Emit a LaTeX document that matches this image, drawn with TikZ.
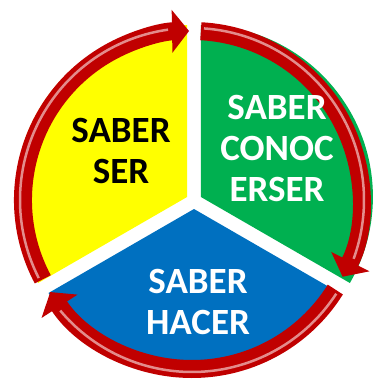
\documentclass[tikz,border=0pt]{standalone}
\usepackage{fontspec}
\setmainfont{Carlito}
\usetikzlibrary{arrows.meta}
\definecolor{saberyellow}{HTML}{FFFF00}
\definecolor{sabergreen}{HTML}{00B050}
\definecolor{saberblue}{HTML}{0070C0}
\definecolor{ringred}{HTML}{C00000}

\begin{document}
\begin{tikzpicture}[x=1pt,y=1pt,
    ringarrow/.style={draw=ringred,line width=18pt,-{Triangle[length=17pt,width=42pt]}},
    ringshine/.style={draw=ringred!45!white,line width=2.5pt},
    sabertext/.style={align=center,font=\fontsize{37}{41}\selectfont\bfseries}]
	 \useasboundingbox (-194,-180) rectangle (180,201);%for adjustment

            % the three pieces, pulled apart a little
            \fill[saberyellow,shift={(150:8)}] (0,0) -- (90:172) arc[start angle=90,end angle=210,radius=172] -- cycle;
            \fill[sabergreen,shift={(30:8)}] (0,0) -- (90:172) arc[start angle=90,end angle=-30,radius=172] -- cycle;
            \fill[saberblue,shift={(270:8)}] (0,0) -- (-30:168) arc[start angle=-30,end angle=-150,radius=168] -- cycle;

            % the ring of arrows, clockwise
            \foreach \from/\to in {208/91,87/-27,-32/-147}{
              \draw[ringarrow,shift={(-2,1)}] (\from:169) arc[start angle=\from,end angle=\to,radius=169];
              \draw[ringshine,shift={(-2,1)}] (\from-1:172) arc[start angle=\from-1,end angle=\to+7,radius=172];
            }

            \node[sabertext,text=black] (ser) at (-73,50) {SABER\\SER};
            \node[sabertext,text=white] (conocer) at (83,53) {SABER\\CONOC\\ERSER};
            \node[sabertext,text=white] (hacer) at (4,-101) {SABER\\HACER};
        \end{tikzpicture}
\end{document}
